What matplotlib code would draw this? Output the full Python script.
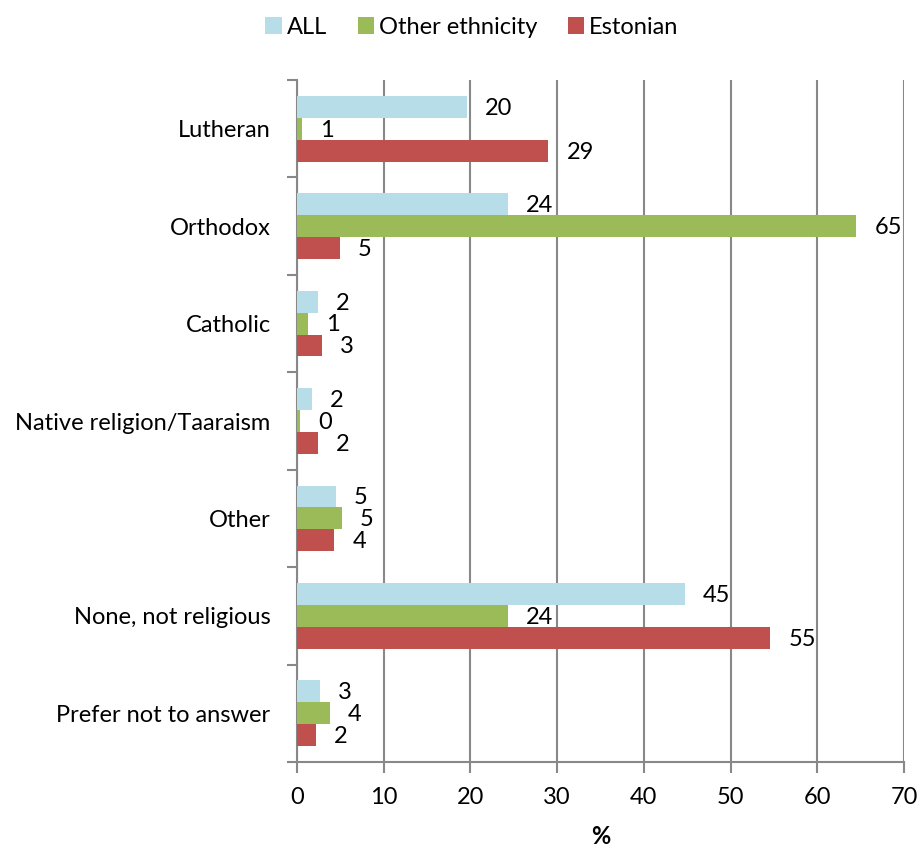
import matplotlib
matplotlib.use("Agg")
import matplotlib.pyplot as plt
import numpy as np
from matplotlib.ticker import FixedLocator
from matplotlib.transforms import offset_copy

plt.rcParams['font.family'] = ['Lato', 'DejaVu Sans']

categories = ["Lutheran", "Orthodox", "Catholic", "Native religion/Taaraism",
              "Other", "None, not religious", "Prefer not to answer"]
series_names = ["ALL", "Other ethnicity", "Estonian"]
all_vals = [19.6, 24.3, 2.4, 1.7, 4.5, 44.7, 2.6]
other_vals = [0.6, 64.5, 1.3, 0.35, 5.2, 24.3, 3.8]
est_vals = [29.0, 4.95, 2.9, 2.4, 4.3, 54.6, 2.2]
all_labels = ["20", "24", "2", "2", "5", "45", "3"]
other_labels = ["1", "65", "1", "0", "5", "24", "4"]
est_labels = ["29", "5", "3", "2", "4", "55", "2"]
colors = ["#B7DDE8", "#9BBB59", "#C0504D"]

FS = 17

fig = plt.figure(figsize=(9.23, 8.48), dpi=100)
ax = fig.add_axes([297/923, 1-762/848, (904-297)/923, (762-80)/848])

y = np.arange(len(categories))
h = 0.225
offsets = [-h, 0, h]
vals = [all_vals, other_vals, est_vals]
labs = [all_labels, other_labels, est_labels]
lab_trans = offset_copy(ax.transData, fig=fig, x=13, y=-1, units='points')
for k in range(3):
    ax.barh(y + offsets[k], vals[k], height=h, color=colors[k],
            label=series_names[k], zorder=3, edgecolor='none')
    for yi, v, t in zip(y + offsets[k], vals[k], labs[k]):
        ax.text(v, yi, t, transform=lab_trans, ha='left', va='center',
                fontsize=FS, color='black', zorder=4)

ax.set_xlim(0, 70)
ax.set_ylim(len(categories) - 0.5, -0.5)
ax.set_xticks(np.arange(0, 71, 10))
ax.set_yticks(y)
ax.set_yticklabels(categories, fontsize=FS)
ax.yaxis.set_minor_locator(FixedLocator(np.arange(-0.5, len(categories), 1)))
ax.tick_params(axis='y', which='major', length=0, pad=19)
ax.tick_params(axis='y', which='minor', length=7, width=1.5, color='#888888')
ax.tick_params(axis='x', which='major', length=8, width=1.5, color='#888888',
               labelsize=FS, pad=10)
ax.grid(axis='x', color='#888888', linewidth=1.5, zorder=0)
for s in ['top', 'right']:
    ax.spines[s].set_visible(False)
for s in ['left', 'bottom']:
    ax.spines[s].set_color('#888888')
    ax.spines[s].set_linewidth(1.5)
ax.set_xlabel('%', fontsize=FS, fontweight='bold', labelpad=12)

handles, labels = ax.get_legend_handles_labels()
fig.legend(handles, labels, loc='center', bbox_to_anchor=(472/923, 1-27/848),
           ncol=3, frameon=False, fontsize=FS, handlelength=0.7,
           handleheight=0.7, handletextpad=0.2, columnspacing=1.3)

fig.savefig('out.png', dpi=100)
